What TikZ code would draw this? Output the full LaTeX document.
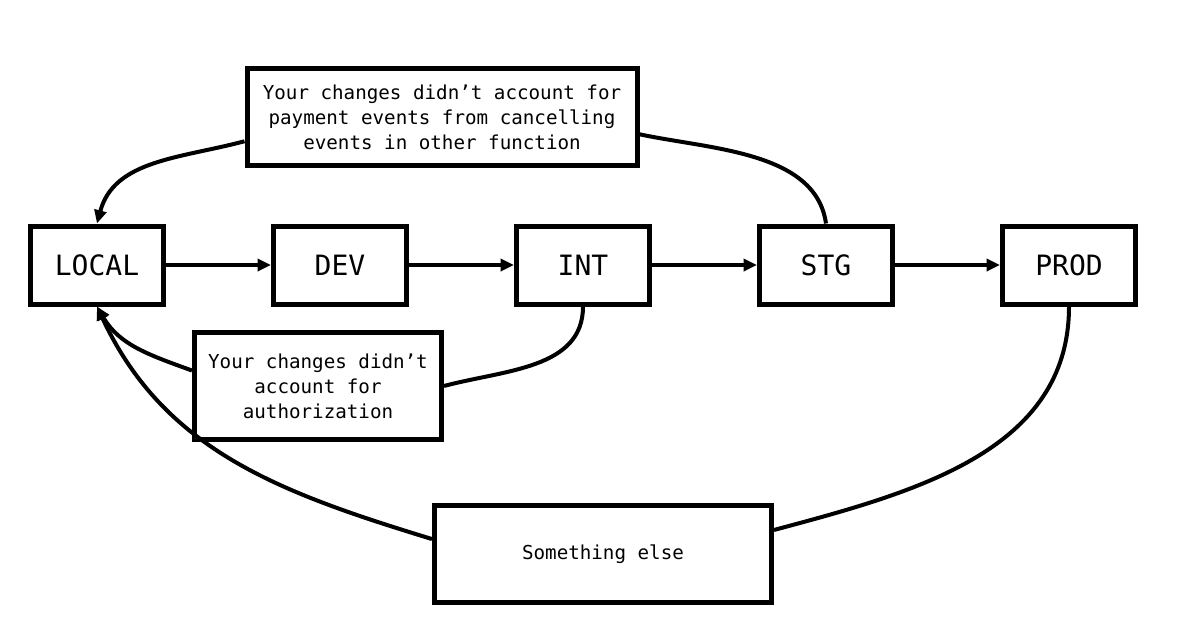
\documentclass[tikz,border=0pt]{standalone}
\usepackage{fontspec}
\setmonofont{DejaVu Sans Mono}
\usepackage{tikz}
\usetikzlibrary{arrows.meta,positioning}

\begin{document}
\begin{tikzpicture}[
    x=0.75pt, y=-0.75pt, node distance=78.75pt,
    stage/.style={rectangle, draw=black, line width=3.75pt, minimum width=99.75pt, minimum height=58.5pt, inner sep=2pt, font=\ttfamily\fontsize{21}{25}\selectfont, fill=white},
    note/.style={rectangle, draw=black, line width=3.75pt, align=center, inner sep=2pt, font=\ttfamily\fontsize{14.4}{18.8}\selectfont, fill=white},
    flow/.style={line width=3pt, -{Triangle[length=10pt,width=9pt]}},
    back/.style={line width=3pt}
]
\useasboundingbox (0,0) rectangle (1182,639);
\node[stage] (local) at (97,265) {LOCAL};
\node[stage, right=of local] (dev) {DEV};
\node[stage, right=of dev] (int) {INT};
\node[stage, right=of int] (stg) {STG};
\node[stage, right=of stg] (prod) {PROD};
\node[note, minimum width=292.5pt, minimum height=72.75pt] (topnote) at (442,117) {Your changes didn’t account for\\payment events from cancelling\\events in other function};
\node[note, minimum width=185.25pt, minimum height=80.25pt] (midnote) at (318,386) {Your changes didn’t\\account for\\authorization};
\node[note, minimum width=252.75pt, minimum height=72.75pt] (lownote) at (603,554) {Something else};

\draw[flow] (local) -- (dev);
\draw[flow] (dev) -- (int);
\draw[flow] (int) -- (stg);
\draw[flow] (stg) -- (prod);

\draw[back] (stg.north) to[out=98, in=-12, looseness=0.9] (topnote.-5);
\draw[flow] (topnote.187) to[out=195, in=75] (local.north);
\draw[back] (int.south) to[out=-90, in=15] (midnote.east);
\draw[flow] (midnote.173) to[out=160, in=-60] (local.south);
\draw[back] (prod.south) to[out=-90, in=15] (lownote.8);
\draw[flow] (lownote.175) to[out=163, in=-65] (local.south);
\end{tikzpicture}
\end{document}
